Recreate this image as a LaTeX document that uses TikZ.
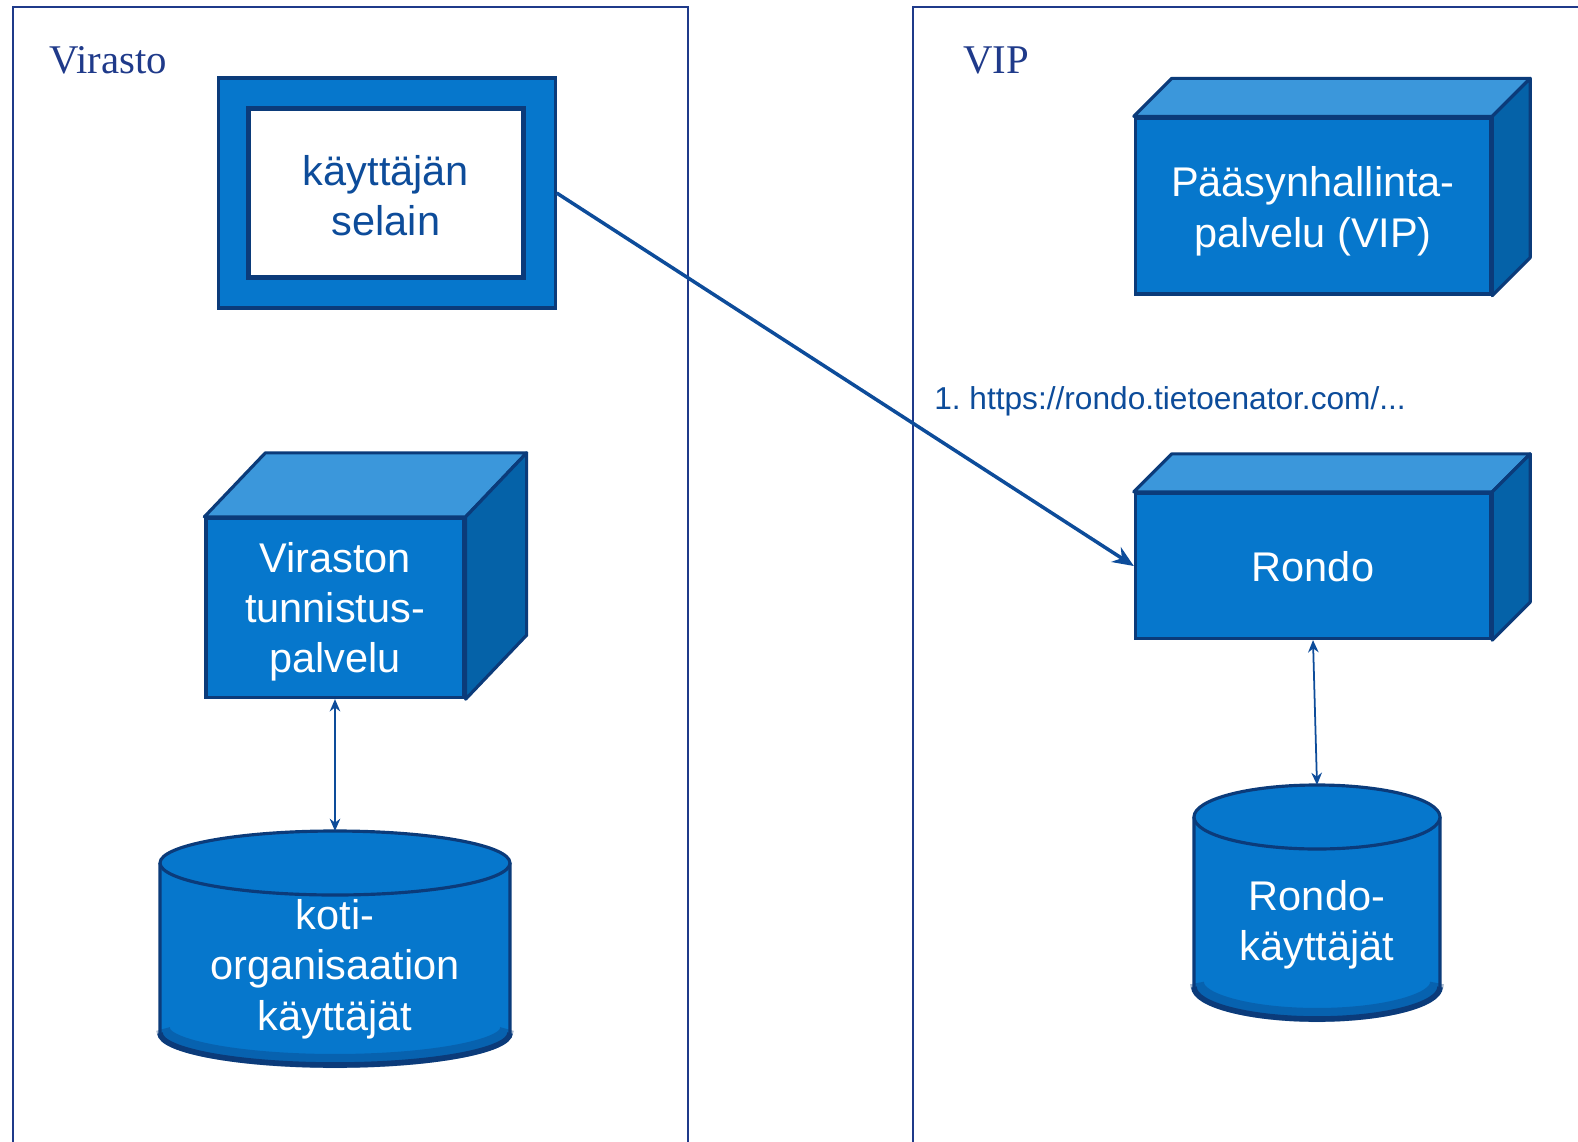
\documentclass[tikz,border=0pt]{standalone}
\usepackage{fontspec}
\setmainfont{Liberation Serif}
\setsansfont{Liberation Sans}
\usetikzlibrary{calc,arrows.meta}
\definecolor{boxblue}{HTML}{0677CC}
\definecolor{topblue}{HTML}{3B97DB}
\definecolor{sideblue}{HTML}{0562A8}
\definecolor{edgenavy}{HTML}{0B3B7A}
\definecolor{framenavy}{HTML}{1F3A8A}
\definecolor{textnavy}{HTML}{0D4C9A}
\newcommand{\cubefaces}[3]{%
  \filldraw[topface] (#1.north west) -- ++(#2,-#3) -- ($(#1.north east)+(#2,-#3)$) -- (#1.north east) -- cycle;
  \filldraw[sideface] (#1.north east) -- ($(#1.north east)+(#2,-#3)$) -- ($(#1.south east)+(#2,-#3)$) -- (#1.south east) -- cycle;}
\newcommand{\dbdisk}[6]{%
  \filldraw[diskface] (#2-#5,#3) -- (#2-#5,#4) arc[start angle=180, end angle=0, x radius=#5, y radius=#6] -- (#2+#5,#3);
  \draw[line width=4pt, edgenavy, opacity=.35] (#2-#5+3,#4-4) arc[start angle=180, end angle=0, x radius=#5-3, y radius=#6];
  \draw[edgenavy, line width=1.6pt] (#2-#5,#4) arc[start angle=180, end angle=0, x radius=#5, y radius=#6];
  \filldraw[diskface] (#2,#3) ellipse[x radius=#5, y radius=#6];
  \coordinate (#1) at (#2,#3-#6);}

\begin{document}
\begin{tikzpicture}[x=0.01cm, y=-0.01cm]
  \tikzset{frameline/.style={draw=framenavy, line width=0.7pt},
    grouplabel/.style={font=\fontsize{11.6}{14}\selectfont, text=framenavy},
    front/.style={draw=edgenavy, line width=0.9pt, fill=boxblue, inner sep=0pt},
    facetext/.style={text=white, align=center, yshift=-1.1pt, font=\sffamily\fontsize{11.8}{14.3}\selectfont},
    topface/.style={draw=edgenavy, line width=0.9pt, fill=topblue, line join=round},
    sideface/.style={draw=edgenavy, line width=0.9pt, fill=sideblue, line join=round},
    diskface/.style={draw=edgenavy, line width=0.9pt, fill=boxblue},
    disktext/.style={text=white, align=center, font=\sffamily\fontsize{11.8}{14.3}\selectfont},
    mainarrow/.style={draw=textnavy, line width=1pt, -{Stealth[length=6pt, width=5pt]}},
    duplex/.style={draw=textnavy, line width=0.5pt, {Stealth[length=3.5pt, width=3pt]}-{Stealth[length=3.5pt, width=3pt]}}}
  \useasboundingbox (0,0) rectangle (1578,1142);

  \draw[frameline] (13,1142) |- (688,7) -- (688,1142);
  \draw[frameline] (913,1142) |- (1578,7);
  \node[grouplabel] (virasto) at (108,60) {Virasto};
  \node[grouplabel] (vip) at (996,60) {VIP};

  \node[front, minimum width=3.36cm, minimum height=2.30cm] (browserframe) at (387,193) {};
  \node[front, fill=white, line width=1.3pt, minimum width=2.75cm, minimum height=1.69cm,
    label={[facetext, text=textnavy, yshift=0.3pt]center:{käyttäjän\\selain}}] (browser) at (386,193) {};

  \node[front, minimum width=3.55cm, minimum height=1.76cm,
    label={[facetext, yshift=-0.4pt]center:{Pääsynhallinta-\\palvelu (VIP)}}] (vipbox) at (1313,206) {};
  \cubefaces{vipbox}{38}{38}
  \node[front, minimum width=3.55cm, minimum height=1.45cm,
    label={[facetext, yshift=1pt]center:Rondo}] (rondo) at (1313,566) {};
  \cubefaces{rondo}{38}{38}
  \node[front, minimum width=2.58cm, minimum height=1.79cm,
    label={[facetext]center:{Viraston\\tunnistus-\\palvelu}}] (tunnistus) at (335,608) {};
  \cubefaces{tunnistus}{61}{64}

  \dbdisk{kotitop}{335}{863}{1033}{175}{32}
  \node[disktext] (koti) at (335,969) {koti-\\organisaation\\käyttäjät};
  \dbdisk{rondousertop}{1317}{817}{987}{123}{32}
  \node[disktext] (rondouser) at (1317,925) {Rondo-\\käyttäjät};

  \node[text=textnavy, font=\sffamily\fontsize{9}{11}\selectfont] (url) at (1170,401) {1.\ https://rondo.tietoenator.com/...};

  \draw[mainarrow] (browserframe.east) -- (rondo.west);
  \draw[duplex] (tunnistus.south) -- (kotitop);
  \draw[duplex] (rondo.south) -- (rondousertop);
\end{tikzpicture}
\end{document}
